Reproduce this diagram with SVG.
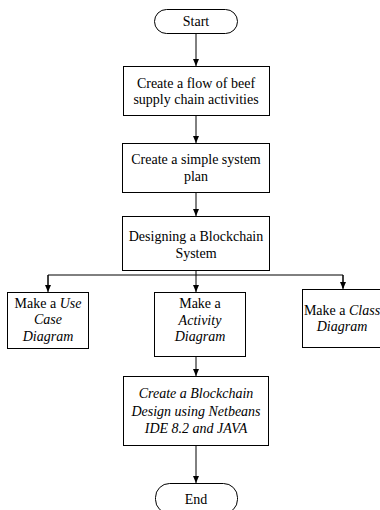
<svg xmlns="http://www.w3.org/2000/svg" width="380" height="510" viewBox="0 0 380 510">
<defs>
<marker id="ah" markerWidth="8" markerHeight="8" refX="7" refY="4" orient="auto" markerUnits="userSpaceOnUse">
<path d="M0,1 L7,4 L0,7 Z" fill="#000"/>
</marker>
</defs>
<style>
.box{fill:#fff;stroke:#000;stroke-width:1}
.t{font-size:14px;fill:#000;text-anchor:middle}
.i{font-style:italic}
.c{stroke:#000;stroke-width:1;fill:none}
.a{marker-end:url(#ah)}
</style>
<rect width="380" height="510" fill="#fff"/>
<g id="connectors">
<line class="c a" x1="196" y1="33" x2="196" y2="66"/>
<line class="c a" x1="196" y1="115" x2="196" y2="143"/>
<line class="c a" x1="196" y1="192" x2="196" y2="216"/>
<line class="c" x1="196" y1="270" x2="196" y2="275"/>
<polyline class="c" points="48,288 48,275 343,275 343,288"/>
<line class="c a" x1="48" y1="275" x2="48" y2="292"/>
<line class="c a" x1="196" y1="275" x2="196" y2="292"/>
<line class="c a" x1="343" y1="275" x2="343" y2="289"/>
<line class="c a" x1="196" y1="357" x2="196" y2="376"/>
<line class="c a" x1="196" y1="445" x2="196" y2="483"/>
</g>
<g id="start">
<rect class="box" x="154.5" y="9.5" width="83" height="24" rx="12"/>
<text class="t" font-family="Liberation Serif" x="196" y="26">Start</text>
</g>
<g id="n1">
<rect class="box" x="123.5" y="66.5" width="146" height="49"/>
<text class="t" font-family="Liberation Serif" x="196" y="88">Create a flow of beef</text>
<text class="t" font-family="Liberation Serif" x="196" y="104">supply chain activities</text>
</g>
<g id="n2">
<rect class="box" x="122.5" y="143.5" width="147" height="49"/>
<text class="t" font-family="Liberation Serif" x="196" y="164">Create a simple system</text>
<text class="t" font-family="Liberation Serif" x="196" y="181">plan</text>
</g>
<g id="n3">
<rect class="box" x="122.5" y="216.5" width="147" height="54"/>
<text class="t" font-family="Liberation Serif" x="196" y="241">Designing a Blockchain</text>
<text class="t" font-family="Liberation Serif" x="196" y="258">System</text>
</g>
<g id="n4">
<rect class="box" x="7.5" y="292.5" width="81" height="56"/>
<text class="t" font-family="Liberation Serif" x="48" y="308">Make a <tspan class="i">Use</tspan></text>
<text class="t i" font-family="Liberation Serif" x="48" y="324">Case</text>
<text class="t i" font-family="Liberation Serif" x="48" y="341">Diagram</text>
</g>
<g id="n5">
<rect class="box" x="154.5" y="292.5" width="91" height="64"/>
<text class="t" font-family="Liberation Serif" x="200" y="308">Make a</text>
<text class="t i" font-family="Liberation Serif" x="200" y="325">Activity</text>
<text class="t i" font-family="Liberation Serif" x="200" y="341">Diagram</text>
</g>
<g id="n6">
<rect class="box" x="302.5" y="289.5" width="90" height="58"/>
<text class="t" font-family="Liberation Serif" x="342" y="315">Make a <tspan class="i">Class</tspan></text>
<text class="t i" font-family="Liberation Serif" x="342" y="331">Diagram</text>
</g>
<g id="n7">
<rect class="box" x="123.5" y="376.5" width="145" height="69"/>
<text class="t i" font-family="Liberation Serif" x="196" y="398">Create a Blockchain</text>
<text class="t i" font-family="Liberation Serif" x="196" y="416">Design using Netbeans</text>
<text class="t i" font-family="Liberation Serif" x="196" y="433">IDE 8.2 and JAVA</text>
</g>
<g id="end">
<rect class="box" x="155.5" y="483.5" width="82" height="30" rx="14"/>
<text class="t" font-family="Liberation Serif" x="196" y="504">End</text>
</g>
</svg>
